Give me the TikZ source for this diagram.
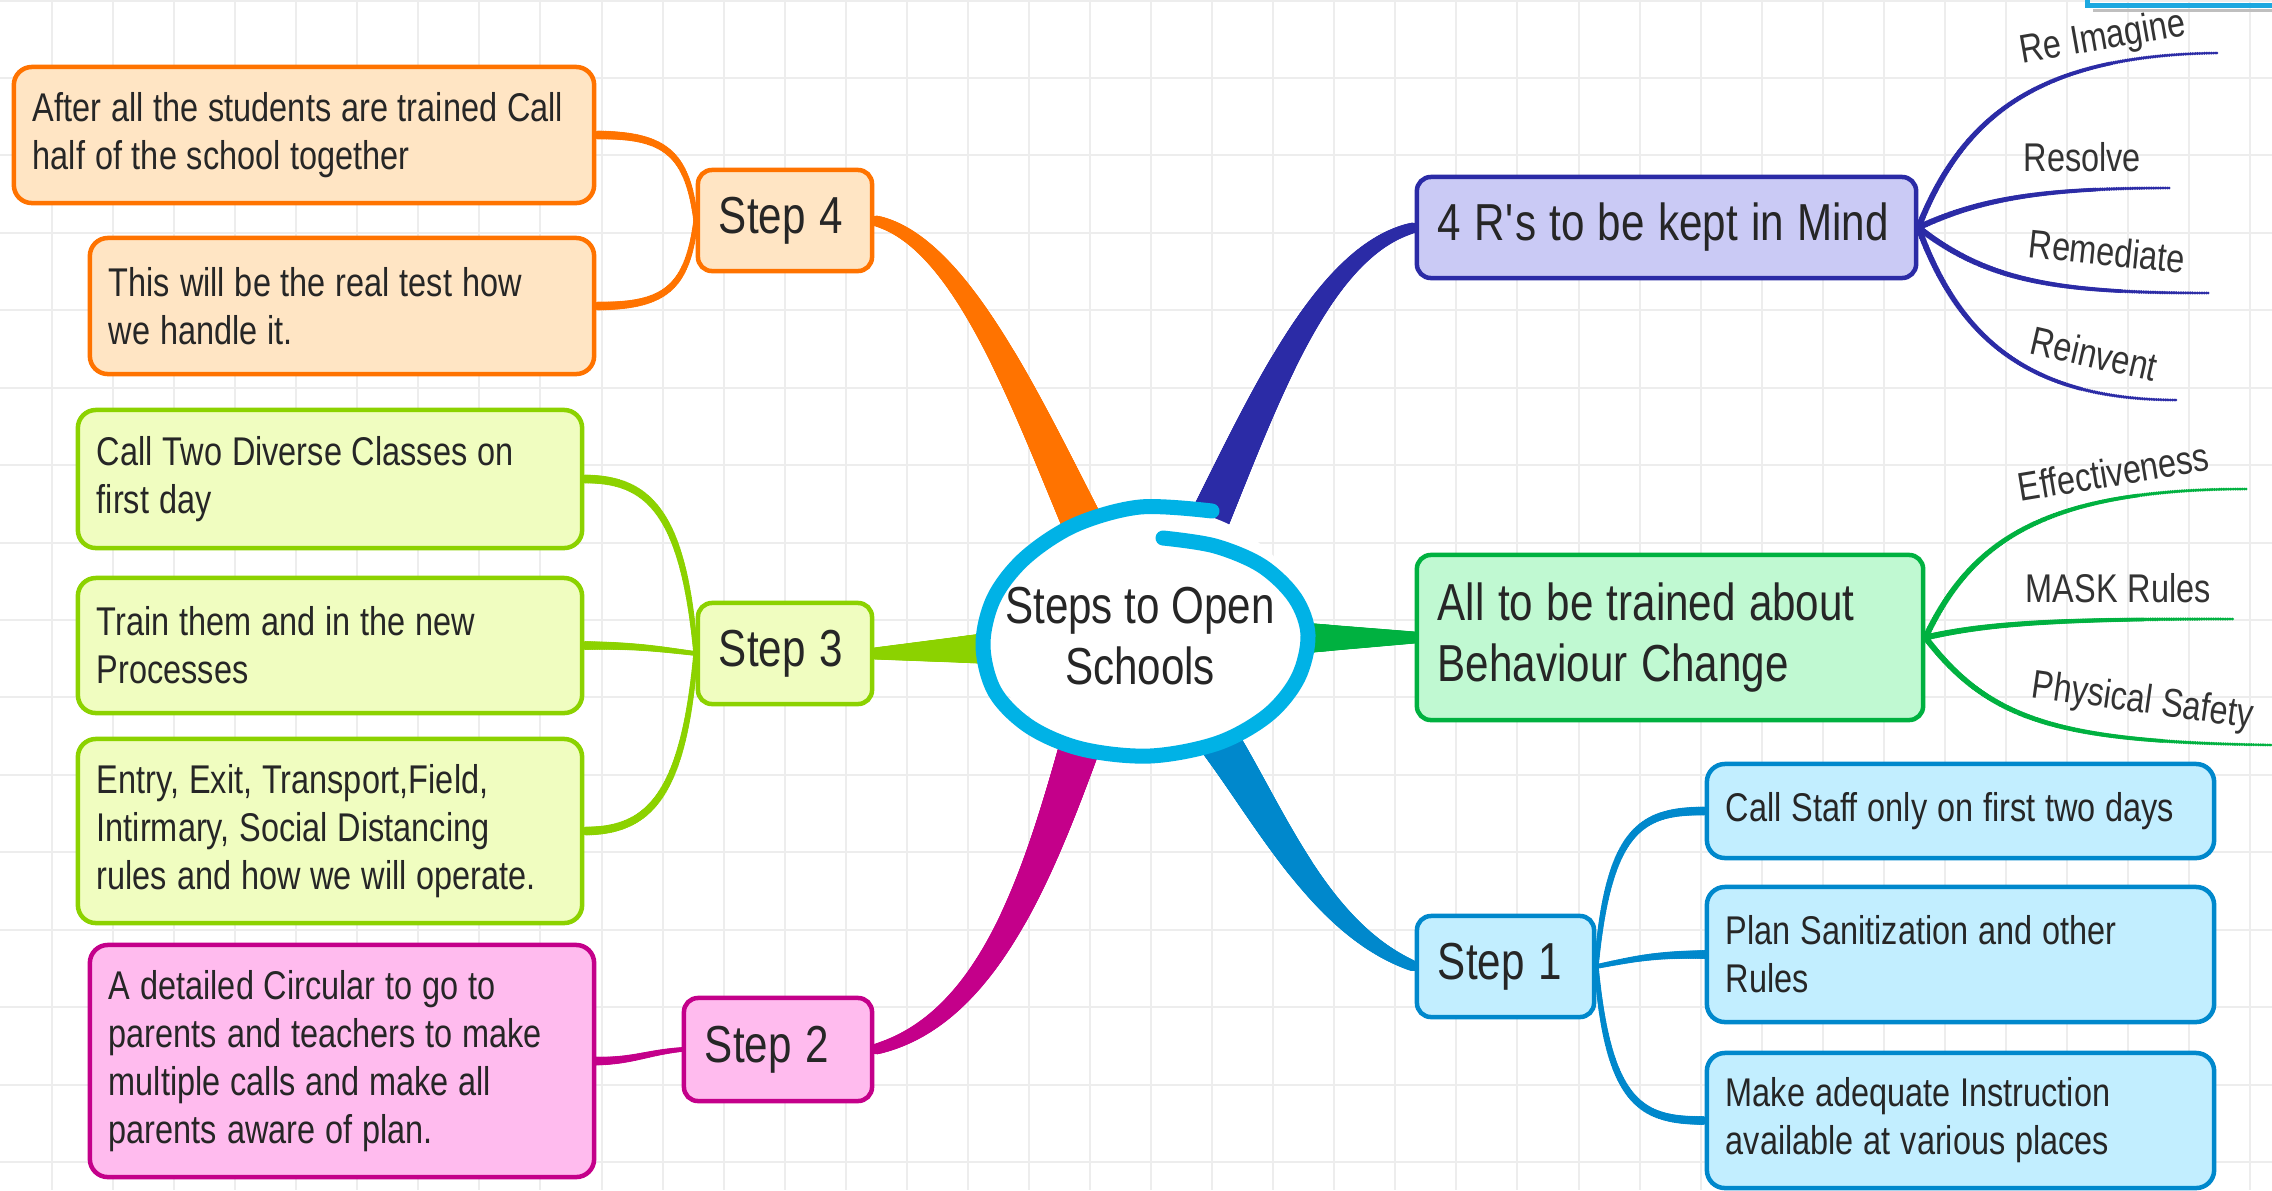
\documentclass[tikz,border=0pt]{standalone}
\usepackage{fontspec}
\setmainfont[FakeStretch=0.81]{Liberation Sans}
\usetikzlibrary{decorations.markings}
\definecolor{orL}{HTML}{FF7300}\definecolor{orF}{HTML}{FFE5C4}
\definecolor{lgL}{HTML}{8CD200}\definecolor{lgF}{HTML}{F0FDC0}
\definecolor{mgL}{HTML}{C4008A}\definecolor{mgF}{HTML}{FFBBEE}
\definecolor{blL}{HTML}{0088CC}\definecolor{blF}{HTML}{C2EEFF}
\definecolor{dbL}{HTML}{2B2BA6}\definecolor{dbF}{HTML}{CACAF5}
\definecolor{grL}{HTML}{00B140}\definecolor{grF}{HTML}{C0F9D2}
\definecolor{cyL}{HTML}{00B2E6}
\definecolor{frameC}{HTML}{1CA8E0}
\definecolor{gridC}{HTML}{EDEDED}
\pgfdeclarelayer{gridl}
\pgfdeclarelayer{bg}
\pgfsetlayers{gridl,bg,main}
\tikzset{
  centf/.style={font=\fontsize{14.8pt}{17.2pt}\selectfont},
  bigf/.style={font=\fontsize{14.8pt}{17.4pt}\selectfont, execute at begin node={\spaceskip=3.8pt\relax}},
  smallf/.style={font=\fontsize{11.4pt}{13.7pt}\selectfont, execute at begin node={\spaceskip=2.8pt\relax}},
  boxbase/.style={draw=#1, line width=0.045cm, align=left, inner ysep=0pt, text=black!85},
  leaf/.style 2 args={boxbase=#1, fill=#2, smallf, rounded corners=0.18cm, inner xsep=0.19cm},
  topic/.style 2 args={boxbase=#1, fill=#2, bigf, rounded corners=0.14cm, inner xsep=0.21cm},
  lbl/.style={smallf, inner sep=0pt, anchor=base west, text=black!80},
  gridline/.style={draw=gridC, line width=0.02cm},
  taper/.style n args={3}{
    decoration={markings,
      mark=between positions 0 and 1 step 0.5pt with {
        \pgfmathsetmacro{\tr}{#1+(#2-#1)*\pgfkeysvalueof{/pgf/decoration/mark info/distance from start}/\pgfdecoratedpathlength}
        \fill[#3] (0pt,0pt) circle[radius=\tr*0.01cm];
      }},
    decorate}
}
\begin{document}
\begin{tikzpicture}[x=0.01cm, y=-0.01cm]
\useasboundingbox (0,0) rectangle (2272,1190);

% grid
\begin{pgfonlayer}{gridl}
\fill[white] (0,0) rectangle (2272,1190);
\foreach \k in {0,...,36} \draw[gridline] ({52+61.06*\k},0) -- ({52+61.06*\k},1190);
\foreach \k in {-1,...,14} \draw[gridline] (0,{78+77.43*\k}) -- (2272,{78+77.43*\k});
\end{pgfonlayer}

% central text
\node[centf, align=center, text=black!85, inner sep=0pt] (c) at (1140,636) {Steps to Open\\Schools};

% topic nodes
\node[topic={orL}{orF}, text width=1.32cm, minimum height=1.01cm] (s4) at (785,220.5) {\mbox{Step 4}};
\node[topic={lgL}{lgF}, text width=1.32cm, minimum height=1.01cm] (s3) at (785,653.5) {\mbox{Step 3}};
\node[topic={mgL}{mgF}, text width=1.46cm, minimum height=1.03cm] (s2) at (778,1049.5) {\mbox{Step 2}};
\node[topic={blL}{blF}, text width=1.35cm, minimum height=1.01cm] (s1) at (1505.5,966.5) {\mbox{Step 1}};
\node[topic={dbL}{dbF}, text width=4.57cm, minimum height=1.01cm] (r4) at (1666.5,227.5) {\mbox{4 R\textquotesingle s to be kept in Mind}};
\node[topic={grL}{grF}, text width=4.64cm, minimum height=1.65cm] (bc) at (1670,637.5) {\mbox{All to be trained about}\\\mbox{Behaviour Change}};

% leaf nodes
\node[leaf={orL}{orF}, text width=5.42cm, minimum height=1.36cm] (a4) at (304,135) {\mbox{After all the students are trained Call}\\\mbox{half of the school together}};
\node[leaf={orL}{orF}, text width=4.66cm, minimum height=1.36cm] (b4) at (342,306) {\mbox{This will be the real test how}\\\mbox{we handle it.}};
\node[leaf={lgL}{lgF}, text width=4.66cm, minimum height=1.38cm] (a3) at (330,479) {\mbox{Call Two Diverse Classes on}\\\mbox{first day}};
\node[leaf={lgL}{lgF}, text width=4.66cm, minimum height=1.35cm] (b3) at (330,645.5) {\mbox{Train them and in the new}\\\mbox{Processes}};
\node[leaf={lgL}{lgF}, text width=4.66cm, minimum height=1.84cm] (c3) at (330,831) {\mbox{Entry, Exit, Transport,Field,}\\\mbox{Intirmary, Social Distancing}\\\mbox{rules and how we will operate.}};
\node[leaf={mgL}{mgF}, text width=4.66cm, minimum height=2.32cm] (a2) at (342,1061) {\mbox{A detailed Circular to go to}\\\mbox{parents and teachers to make}\\\mbox{multiple calls and make all}\\\mbox{parents aware of plan.}};
\node[leaf={blL}{blF}, text width=4.69cm, minimum height=0.94cm] (a1) at (1960.5,811) {\mbox{Call Staff only on first two days}};
\node[leaf={blL}{blF}, text width=4.69cm, minimum height=1.35cm] (b1) at (1960.5,954.5) {\mbox{Plan Sanitization and other}\\\mbox{Rules}};
\node[leaf={blL}{blF}, text width=4.69cm, minimum height=1.35cm] (c1) at (1960.5,1120.5) {\mbox{Make adequate Instruction}\\\mbox{available at various places}};

% labels
\node[lbl, rotate=10] (t1) at (2022,64) {Re Imagine};
\node[lbl] (t2) at (2023,171) {Resolve};
\node[lbl, rotate=-6] (t3) at (2027,257) {Remediate};
\node[lbl, rotate=-13] (t4) at (2028,353) {Reinvent};
\node[lbl, rotate=9.5] (t5) at (2020,502) {Effectiveness};
\node[lbl] (t6) at (2025,602) {MASK Rules};
\node[lbl, rotate=-8] (t7) at (2030,697) {Physical Safety};

% free ends
\coordinate (o4) at (1088,535);
\coordinate (o3) at (995,648);
\coordinate (o2) at (1085,730);
\coordinate (oR) at (1200,540);
\coordinate (oB) at (1295,638);
\coordinate (o1) at (1215,735);
\coordinate (e1) at (2218,53);
\coordinate (e2) at (2170,188);
\coordinate (e3) at (2210,293);
\coordinate (e4) at (2178,400);
\coordinate (g1) at (2247,489);
\coordinate (g2) at (2235,619);
\coordinate (g3) at (2272,745);

\begin{pgfonlayer}{bg}
% main branches
\path[taper={21}{5.5}{orL}] (o4) .. controls (1025,400) and (960,240) .. (s4.east);
\path[taper={21}{5.5}{dbL}] (oR) .. controls (1260,410) and (1320,250) .. (r4.west);
\path[taper={21}{5.5}{mgL}] (o2) .. controls (1040,870) and (990,1020) .. (s2.east);
\path[taper={21}{5.5}{blL}] (o1) .. controls (1270,815) and (1320,930) .. (s1.west);
\path[taper={16}{6}{grL}] (oB) -- (bc.west);
\path[taper={16}{6}{lgL}] (o3) -- (s3.east);
% sub branches
\path[taper={2.5}{4.5}{orL}] (s4.west) .. controls +(-8,-70) and +(66,0) .. (a4.east);
\path[taper={2.5}{4.5}{orL}] (s4.west) .. controls +(-8,70) and +(66,0) .. (b4.east);
\path[taper={2.5}{4.5}{lgL}] (s3.west) .. controls +(-12,-143) and +(63,0) .. (a3.east);
\path[taper={2.5}{4.5}{lgL}] (s3.west) .. controls +(-40,-5) and +(50,0) .. (b3.east);
\path[taper={2.5}{4.5}{lgL}] (s3.west) .. controls +(-12,145) and +(63,0) .. (c3.east);
\path[taper={2.5}{4.5}{mgL}] (s2.west) .. controls +(-34,3) and +(36,0) .. (a2.east);
\path[taper={2.5}{4.5}{blL}] (s1.east) .. controls +(12,-140) and +(-62,0) .. (a1.west);
\path[taper={2.5}{4.5}{blL}] (s1.east) .. controls +(40,-8) and +(-50,0) .. (b1.west);
\path[taper={2.5}{4.5}{blL}] (s1.east) .. controls +(12,140) and +(-62,0) .. (c1.west);
% R lines
\path[taper={3.2}{1.5}{dbL}] (r4.east) .. controls +(45,-115) and +(-175,2) .. (e1);
\path[taper={3.2}{1.5}{dbL}] (r4.east) .. controls +(60,-28) and +(-130,0) .. (e2);
\path[taper={3.2}{1.5}{dbL}] (r4.east) .. controls +(70,55) and +(-150,0) .. (e3);
\path[taper={3.2}{1.5}{dbL}] (r4.east) .. controls +(40,110) and +(-150,0) .. (e4);
\path[taper={3.2}{1.5}{grL}] (bc.east) .. controls +(45,-95) and +(-205,0) .. (g1);
\path[taper={3.2}{1.5}{grL}] (bc.east) .. controls +(65,-15) and +(-170,0) .. (g2);
\path[taper={3.2}{1.5}{grL}] (bc.east) .. controls +(65,85) and +(-210,-3) .. (g3);
% central ellipse
\fill[white] (1145,630) ellipse [x radius=1.6cm, y radius=1.24cm];
\draw[cyL, line width=0.15cm, line cap=round] plot[smooth, tension=0.55] coordinates {(1163,538) (1215,546) (1262,566) (1295,598) (1308,635) (1298,678) (1268,715) (1218,743) (1150,756) (1082,749) (1030,727) (995,692) (983,645) (994,598) (1025,558) (1075,525) (1140,507) (1212,511)};
\end{pgfonlayer}

% top-right frame corner
\draw[black!25, line width=0.03cm] (2093,10) -- (2280,10);
\draw[frameC, line width=0.05cm] (2087,-10) -- (2087,5) -- (2290,5);
\end{tikzpicture}
\end{document}
